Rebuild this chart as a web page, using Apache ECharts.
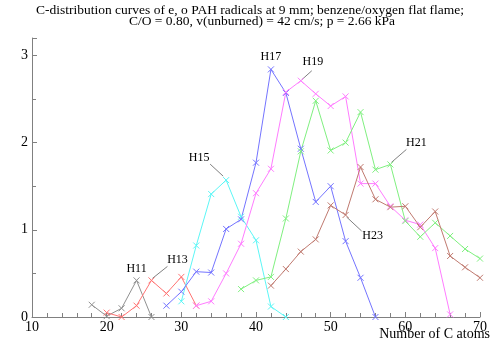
<!DOCTYPE html>
<html>
<head>
<meta charset="utf-8">
<script src="https://cdn.jsdelivr.net/npm/echarts@6/dist/echarts.min.js"></script>
<style>
  html, body { margin: 0; padding: 0; background: #fff; }
  #chart { width: 500px; height: 352px; }
</style>
</head>
<body>
<div id="chart"></div>
<script>
// carbon numbers and relative intensities
var h11C = [18, 20, 22, 24, 26];
var h11 = [0.14, 0.01, 0.10, 0.42, 0];
var h13C = [20, 22, 24, 26, 28, 30, 32];
var h13 = [0.05, 0.0, 0.13, 0.42, 0.27, 0.46, 0.13];
var h15C = [30, 32, 34, 36, 38, 40, 42, 44];
var h15 = [0.18, 0.82, 1.41, 1.57, 1.15, 0.88, 0.12, 0];
var h17C = [28, 30, 32, 34, 36, 38, 40, 42, 44, 46, 48, 50, 52, 54, 56];
var h17 = [0.13, 0.29, 0.52, 0.51, 1.01, 1.12, 1.77, 2.84, 2.57, 1.93, 1.32, 1.50, 0.87, 0.45, 0];
var h19C = [32, 34, 36, 38, 40, 42, 44, 46, 48, 50, 52, 54, 56, 58, 60, 62, 64, 66];
var h19 = [0.13, 0.18, 0.50, 0.84, 1.42, 1.70, 2.58, 2.71, 2.56, 2.42, 2.53, 1.53, 1.53, 1.27, 1.11, 1.06, 0.79, 0.03];
var h21C = [38, 40, 42, 44, 46, 48, 50, 52, 54, 56, 58, 60, 62, 64, 66, 68, 70];
var h21 = [0.32, 0.42, 0.46, 1.13, 1.90, 2.48, 1.91, 2.00, 2.35, 1.69, 1.75, 1.10, 0.92, 1.08, 0.93, 0.78, 0.67];
var h23C = [42, 44, 46, 48, 50, 52, 54, 56, 58, 60, 62, 64, 66, 68, 70];
var h23 = [0.36, 0.55, 0.75, 0.89, 1.28, 1.17, 1.72, 1.35, 1.26, 1.27, 1.03, 1.21, 0.70, 0.57, 0.45];

var xTicks = [10, 20, 30, 40, 50, 60, 70];
var yTicks = [0, 1, 2, 3];

var serif = "'Liberation Serif', 'Times New Roman', Times, serif";
var axisGray = '#808080';

function zip(xs, ys) {
  return xs.map(function (x, i) { return [x, ys[i]]; });
}

function lineSeries(name, xs, ys, color) {
  return {
    name: name,
    type: 'line',
    data: zip(xs, ys),
    symbol: 'path://M0,0L10,10M10,0L0,10',
    symbolSize: 6,
    showAllSymbol: true,
    animation: false,
    lineStyle: { color: color, width: 1 },
    itemStyle: { color: color, borderColor: color, borderWidth: 1 }
  };
}

// label name, anchor point, label offset, leader line offsets (optional)
var notes = [
  { text: 'H11', at: [24, 0.42], dx: 0, dy: -12 },
  { text: 'H13', at: [26, 0.42], dx: 26, dy: -21, line: [1, -2, 16, -14] },
  { text: 'H15', at: [36, 1.57], dx: -27, dy: -22, line: [-3, -4, -16, -16] },
  { text: 'H17', at: [42, 2.84], dx: 0, dy: -13 },
  { text: 'H19', at: [46, 2.71], dx: 12, dy: -19, line: [1, -1, 11, -10] },
  { text: 'H21', at: [58, 1.75], dx: 26, dy: -22, line: [1, -2, 16, -15] },
  { text: 'H23', at: [52, 1.17], dx: 27, dy: 21, line: [1, 2, 16, 16] }
];

var chart = echarts.init(document.getElementById('chart'), null, { renderer: 'canvas' });

var option = {
  backgroundColor: '#fff',
  animation: false,
  grid: { left: 32, right: 20, top: 38, bottom: 35, containLabel: false },
  xAxis: {
    type: 'value',
    min: 10,
    max: 70,
    interval: 10,
    axisLine: { lineStyle: { color: axisGray, width: 1 } },
    axisTick: { inside: true, length: 5, lineStyle: { color: axisGray } },
    minorTick: { show: true, splitNumber: 5, length: 4, lineStyle: { color: axisGray } },
    splitLine: { show: false },
    axisLabel: {
      margin: 3,
      fontFamily: serif, fontSize: 14, color: '#000',
      formatter: function (v) { return xTicks.indexOf(v) >= 0 ? String(v) : ''; }
    }
  },
  yAxis: {
    type: 'value',
    min: 0,
    max: 3.2,
    interval: 1,
    axisLine: { show: true, lineStyle: { color: axisGray, width: 1 } },
    axisTick: { show: true, inside: true, length: 5, lineStyle: { color: axisGray } },
    minorTick: { show: true, splitNumber: 2, length: 4, lineStyle: { color: axisGray } },
    splitLine: { show: false },
    axisLabel: {
      margin: 4,
      fontFamily: serif, fontSize: 14, color: '#000',
      formatter: function (v) { return yTicks.indexOf(v) >= 0 ? String(v) : ''; }
    }
  },
  series: [
    lineSeries('H11', h11C, h11, '#909090'),
    lineSeries('H13', h13C, h13, '#ff7474'),
    lineSeries('H15', h15C, h15, '#5cf6f6'),
    lineSeries('H17', h17C, h17, '#7474ff'),
    lineSeries('H19', h19C, h19, '#ff7cff'),
    lineSeries('H21', h21C, h21, '#80f080'),
    lineSeries('H23', h23C, h23, '#c07a70')
  ]
};

chart.setOption(option);

var graphics = [
  {
    type: 'text', x: 250, y: 3,
    style: {
      text: 'C-distribution curves of e, o PAH radicals at 9 mm; benzene/oxygen flat flame;',
      font: '13.5px ' + serif, fill: '#000', textAlign: 'center'
    }
  },
  {
    type: 'text', x: 262, y: 14,
    style: {
      text: 'C/O = 0.80, v(unburned) = 42 cm/s; p = 2.66 kPa',
      font: '13.5px ' + serif, fill: '#000', textAlign: 'center'
    }
  },
  {
    type: 'text', x: 490, y: 327,
    style: {
      text: 'Number of C atoms',
      font: '14px ' + serif, fill: '#000', textAlign: 'right'
    }
  }
];

notes.forEach(function (n) {
  var p = chart.convertToPixel({ gridIndex: 0 }, n.at);
  graphics.push({
    type: 'text',
    x: p[0] + n.dx, y: p[1] + n.dy,
    style: {
      text: n.text, font: '12px ' + serif, fill: '#000',
      textAlign: 'center', textVerticalAlign: 'middle'
    }
  });
  if (n.line) {
    graphics.push({
      type: 'line',
      shape: { x1: p[0] + n.line[0], y1: p[1] + n.line[1], x2: p[0] + n.line[2], y2: p[1] + n.line[3] },
      style: { stroke: '#808080', lineWidth: 1 }
    });
  }
});

chart.setOption({ graphic: graphics });
</script>
</body>
</html>
